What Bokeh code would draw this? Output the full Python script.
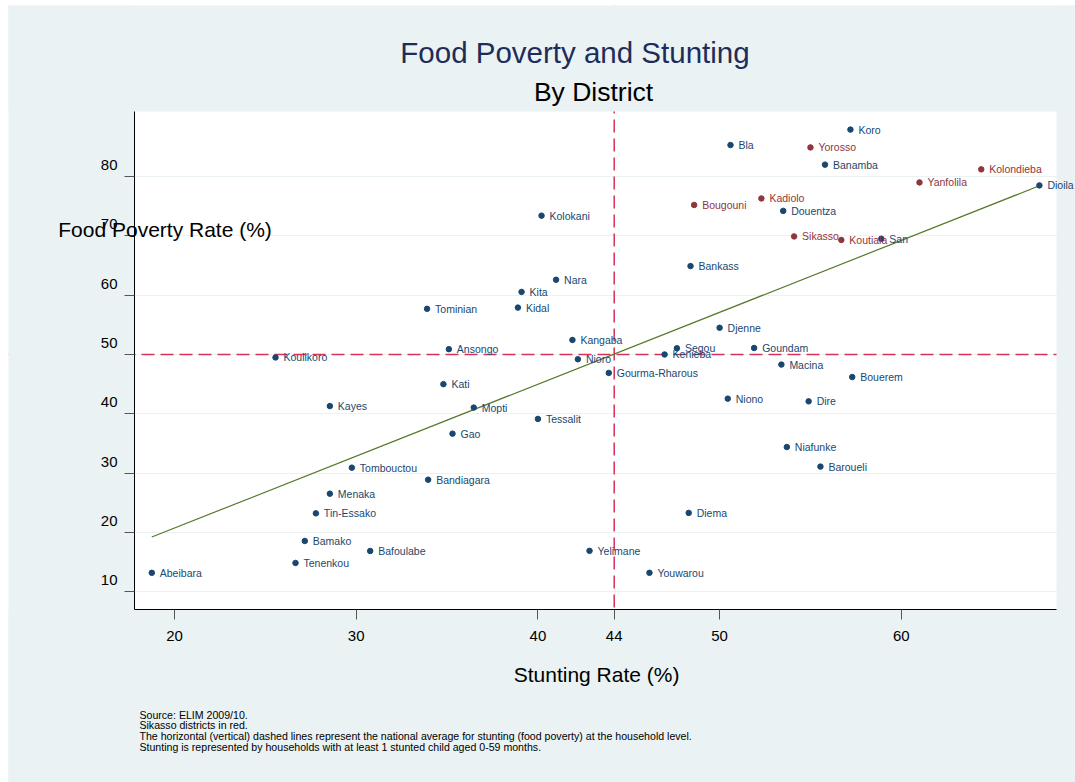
import numpy as np
from bokeh.plotting import figure
from bokeh.models import ColumnDataSource, LabelSet, Label, Span, FixedTicker, BoxAnnotation
from bokeh.core.properties import value
from bokeh.embed import file_html
from bokeh.resources import INLINE

# District-level estimates (ELIM 2009/10)
districts = [
    "Koro", "Yorosso", "Banamba", "Kolondieba", "Yanfolila", "Dioila", "Douentza",
    "Sikasso", "Koutiala", "San", "Macina", "Bouerem", "Dire", "Niafunke", "Baroueli",
    "Bla", "Kadiolo", "Bougouni", "Kolokani", "Bankass", "Nara", "Kita", "Kidal",
    "Djenne", "Kangaba", "Segou", "Goundam", "Kenieba", "Nioro", "Ansongo", "Tominian",
    "Koulikoro", "Gourma-Rharous", "Niono", "Mopti", "Tessalit", "Diema", "Yelimane",
    "Youwarou", "Kati", "Kayes", "Gao", "Tombouctou", "Bandiagara", "Menaka",
    "Tin-Essako", "Bamako", "Bafoulabe", "Tenenkou", "Abeibara",
]
stunting = [
    57.2, 55.0, 55.8, 64.4, 61.0, 67.6, 53.5,
    54.1, 56.7, 58.9, 53.4, 57.3, 54.9, 53.7, 55.55,
    50.6, 52.3, 48.6, 40.2, 48.4, 41.0, 39.1, 38.9,
    50.0, 41.9, 47.65, 51.9, 46.97, 42.2, 35.1, 33.9,
    25.56, 43.9, 50.45, 36.47, 40.0, 48.3, 42.84,
    46.14, 34.8, 28.55, 35.3, 29.76, 33.96, 28.55,
    27.78, 27.17, 30.77, 26.66, 18.75,
]
food_poverty = [
    87.9, 84.9, 82.0, 81.2, 79.0, 78.5, 74.2,
    69.9, 69.3, 69.5, 48.3, 46.2, 42.1, 34.4, 31.1,
    85.3, 76.3, 75.2, 73.4, 64.9, 62.6, 60.55, 57.9,
    54.5, 52.45, 51.05, 51.1, 50.0, 49.2, 50.9, 57.7,
    49.5, 46.9, 42.56, 41.05, 39.14, 23.3, 16.9,
    13.2, 45.0, 41.3, 36.66, 30.93, 28.9, 26.54,
    23.22, 18.57, 16.88, 14.86, 13.2,
]
in_sikasso = [
    0, 1, 0, 1, 1, 0, 0,
    1, 1, 0, 0, 0, 0, 0, 0,
    0, 1, 1, 0, 0, 0, 0, 0,
    0, 0, 0, 0, 0, 0, 0, 0,
    0, 0, 0, 0, 0, 0, 0,
    0, 0, 0, 0, 0, 0, 0,
    0, 0, 0, 0, 0,
]

# National household-level averages
national_stunting = 44.2
national_poverty = 50.0

x_ticks = [20, 30, 40, 44.2, 50, 60]
x_tick_labels = ["20", "30", "40", "44", "50", "60"]
y_ticks = [10, 20, 30, 40, 50, 60, 70, 80]

footnotes = [
    "Source: ELIM 2009/10.",
    "Sikasso districts in red.",
    "The horizontal (vertical) dashed lines represent the national average for stunting (food poverty) at the household level.",
    "Stunting is represented by households with at least 1 stunted child aged 0-59 months.",
]

NAVY = "#1a476f"
MAROON = "#90353b"
BG = "#eaf2f3"
FONT = "Liberation Sans"

colors = [MAROON if s else NAVY for s in in_sikasso]
src = ColumnDataSource(dict(x=stunting, y=food_poverty, name=districts, color=colors))

# whole-canvas coordinate window and the white plot region inside it
XL, XR = 10.864, 69.587
YB, YT = -22.14, 108.82
X0, X1 = 17.80, 68.54
Y0, Y1 = 6.98, 90.96

p = figure(
    width=1067, height=777, margin=(5, 0, 0, 8), title=None,
    x_range=(XL, XR), y_range=(YB, YT),
    output_backend="svg", toolbar_location=None,
    min_border=0,
    background_fill_color="white", border_fill_color=BG, outline_line_color=None,
)

# axes pinned to the edges of the plot region
p.xaxis.fixed_location = Y0
p.xaxis.bounds = (X0, X1)
p.xaxis.ticker = FixedTicker(ticks=x_ticks)
p.xaxis.major_label_overrides = {t: l for t, l in zip(x_ticks, x_tick_labels)}
p.yaxis.fixed_location = X0
p.yaxis.bounds = (Y0, Y1)
p.yaxis.ticker = FixedTicker(ticks=y_ticks)
p.yaxis.major_label_overrides = {t: f"{t}\n" for t in y_ticks}
for ax in (p.xaxis[0], p.yaxis[0]):
    ax.axis_line_color = "black"
    ax.axis_line_width = 1
    ax.major_tick_line_color = "#555555"
    ax.major_tick_in = 0
    ax.major_tick_out = 10
    ax.minor_tick_line_color = None
    ax.major_label_text_font = FONT
    ax.major_label_text_font_size = "15px"
    ax.major_label_text_color = "black"
p.yaxis.major_label_text_line_height = 1.4
p.yaxis.major_label_standoff = 7
p.xaxis.major_label_standoff = 11

p.xgrid.visible = False
p.ygrid.ticker = FixedTicker(ticks=y_ticks)
p.ygrid.grid_line_color = BG
p.ygrid.grid_line_width = 1.2

# national average reference lines
p.add_layout(Span(location=national_poverty, dimension="width", line_color="#d9305a",
                  line_width=1.5, line_dash="13 6", level="underlay"))
p.add_layout(Span(location=national_stunting, dimension="height", line_color="#d9305a",
                  line_width=1.5, line_dash="13 6", level="underlay"))

# outer background around the plot region
pad = 5.0
for kw in (dict(left=XL - pad, right=X0, bottom=YB - pad, top=YT + pad),
           dict(left=X1, right=XR + pad, bottom=YB - pad, top=YT + pad),
           dict(left=XL - pad, right=XR + pad, bottom=YB - pad, top=Y0),
           dict(left=XL - pad, right=XR + pad, bottom=Y1, top=YT + pad)):
    p.add_layout(BoxAnnotation(fill_color=BG, fill_alpha=1.0, line_color=None,
                               level="underlay", **kw))

# linear fit across the observed stunting range
slope, intercept = np.polyfit(stunting, food_poverty, 1)
xs = np.array([min(stunting), max(stunting)])
p.line(xs, slope * xs + intercept, line_color="#56792a", line_width=1.2)

p.scatter("x", "y", source=src, size=5.5, fill_color="color", line_color="color")
p.add_layout(LabelSet(x="x", y="y", text="name", source=src, x_offset=8,
                      text_baseline="middle", text_align="left", text_color="color",
                      text_font=value(FONT), text_font_size=value("10.5px")))


def note(text, x, y, size, color="black", align="center"):
    p.add_layout(Label(x=x, y=y, text=text, text_align=align, text_baseline="middle",
                       text_font=FONT, text_font_size=size, text_color=color))


note("Food Poverty and Stunting", 42.04, 100.9, "29.5px", "#1e2c5a")
note("By District", 43.06, 94.16, "26.5px")
note("Food Poverty Rate (%)", 19.48, 71.07, "21px")
note("Stunting Rate (%)", 43.23, -3.95, "21px")
for i, line in enumerate(footnotes):
    note(line, 18.07, -10.68 - i * 1.80, "10.6px", align="left")

open("out.html", "w").write(file_html(p, INLINE))
